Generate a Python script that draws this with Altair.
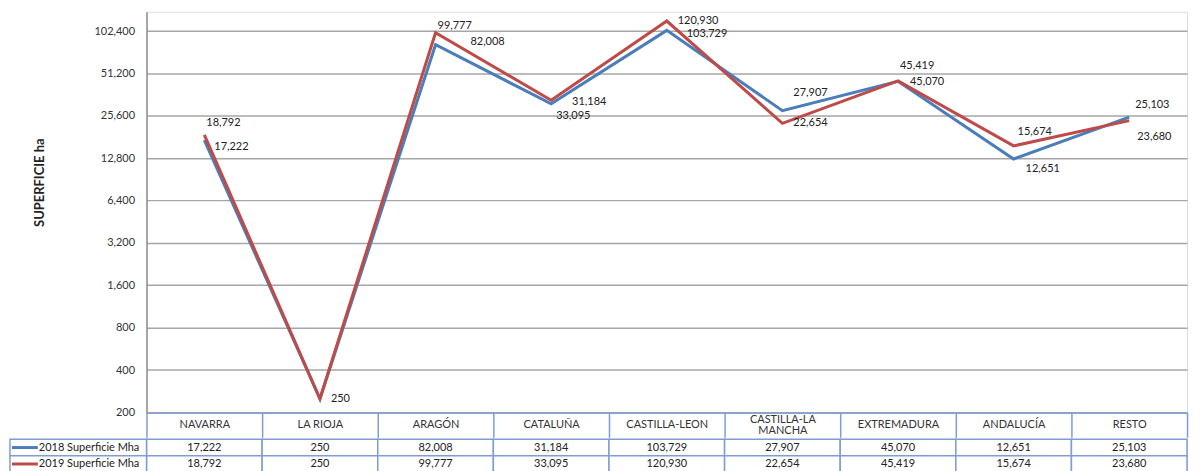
import altair as alt
import pandas as pd

REGIONS = ["NAVARRA", "LA RIOJA", "ARAGÓN", "CATALUÑA", "CASTILLA-LEON",
           "CASTILLA-LA MANCHA", "EXTREMADURA", "ANDALUCÍA", "RESTO"]
SERIES = ["2018 Superficie Mha", "2019 Superficie Mha"]
VALUES_2018 = [17222, 250, 82008, 31184, 103729, 27907, 45070, 12651, 25103]
VALUES_2019 = [18792, 250, 99777, 33095, 120930, 22654, 45419, 15674, 23680]
Y_TICKS = [200, 400, 800, 1600, 3200, 6400, 12800, 25600, 51200, 102400]

# label nudges (pixels, style only)
DX_2018 = [10, 11, 35, 21, 20, 11, 12, 12, 6]
DY_2018 = [7, 0, -3, -2, 4, -18, 1, 10, -12]
DX_2019 = [2, 11, 2, 5, 11, 11, 2, 4, 8]
DY_2019 = [-12, 0, -7, 16, 0, 0, -15, -14, 16]

BLUE = "#4a7ebb"
RED = "#be4b48"
BORDER = "#7f9dd0"
FONT = "Lato"

rows = []
for i, r in enumerate(REGIONS):
    rows.append({"region": r, "idx": i, "series": SERIES[0], "value": VALUES_2018[i],
                 "dx": DX_2018[i], "dy": DY_2018[i], "show": 0 if r == "LA RIOJA" else 1})
for i, r in enumerate(REGIONS):
    rows.append({"region": r, "idx": i, "series": SERIES[1], "value": VALUES_2019[i],
                 "dx": DX_2019[i], "dy": DY_2019[i], "show": 1})
df = pd.DataFrame(rows)

color = alt.Color("series:N", scale=alt.Scale(domain=SERIES, range=[BLUE, RED]), legend=None)
xband = alt.Scale(type="band", paddingInner=0, paddingOuter=0)

x_line = alt.X(
    "region:N", sort=REGIONS, scale=xband,
    axis=alt.Axis(
        title=None, labelAngle=0, tickBand="extent", tickSize=25, tickColor=BORDER,
        tickWidth=1.5, domainColor=BORDER, domainWidth=1.5,
        labelPadding={"condition": {"test": "datum.value == 'CASTILLA-LA MANCHA'", "value": -18},
                      "value": -13},
        labelBaseline="middle", labelOverlap=False, labelFontSize=11, labelColor="#333333",
        labelFont=FONT, minExtent=25, maxExtent=25, grid=False,
        labelExpr="datum.value == 'CASTILLA-LA MANCHA' ? ['CASTILLA-LA', 'MANCHA'] : datum.value",
        labelLineHeight=11,
    ),
)
y_line = alt.Y(
    "value:Q",
    scale=alt.Scale(type="log", base=2, domain=[200, 140700], nice=False),
    axis=alt.Axis(
        values=Y_TICKS, format=",", title="SUPERFICIE ha", titleFont=FONT,
        titleFontSize=13, titleFontWeight="bold", titleColor="#222222",
        titleX=-107, titleY=171, titleAngle=270, titleAlign="center", titleBaseline="middle",
        grid=True, gridColor="#a6a6a6", gridWidth=1.5, domainColor="#8c8c8c", domainWidth=1.5,
        ticks=False, labelPadding=12, labelFontSize=11, labelColor="#333333", labelFont=FONT,
    ),
)

base = alt.Chart(df)
lines = base.mark_line(strokeWidth=3).encode(
    x=x_line, y=y_line, color=color, order=alt.Order("idx:Q"),
    detail="series:N",
)
labels = base.transform_filter("datum.show == 1").mark_text(
    align="left", baseline="middle", fontSize=11, font=FONT, color="#222222",
    dx=alt.expr("datum.dx"), dy=alt.expr("datum.dy"),
).encode(
    x=alt.X("region:N", sort=REGIONS, scale=xband),
    y=alt.Y("value:Q"),
    text=alt.Text("value:Q", format=","),
)
line_chart = alt.layer(lines, labels).properties(width=1044, height=402)

# data table
tx = alt.X("region:N", sort=REGIONS, scale=xband, axis=None)
ty = alt.Y("series:N", sort=SERIES, scale=alt.Scale(paddingInner=0, paddingOuter=0), axis=None)
tbase = alt.Chart(df)
cells = tbase.mark_rect(fill="white", stroke=BORDER, strokeWidth=1.5).encode(x=tx, y=ty)
cell_text = tbase.mark_text(fontSize=11, font=FONT, color="#222222", baseline="middle").encode(
    x=tx, y=ty, text=alt.Text("value:Q", format=",")
)
sdf = pd.DataFrame({"series": SERIES})
sbase = alt.Chart(sdf)
leg_cells = sbase.mark_rect(fill="white", stroke=BORDER, strokeWidth=1.5).encode(
    x=alt.value(-137), x2=alt.value(0), y=ty
)
leg_keys = sbase.mark_rule(strokeWidth=3).encode(
    x=alt.value(-135), x2=alt.value(-109), y=ty, color=color
)
leg_text = sbase.mark_text(align="left", baseline="middle", fontSize=11, font=FONT,
                           color="#222222").encode(
    x=alt.value(-108), y=ty, text="series:N"
)
table = alt.layer(cells, cell_text, leg_cells, leg_keys, leg_text).properties(width=1044, height=33)

chart = alt.vconcat(line_chart, table, spacing=-4).resolve_scale(
    x="independent", y="independent"
).properties(
    padding={"left": 8, "top": 10, "right": 11, "bottom": 0}
).configure_view(stroke=None).configure(font=FONT, background="white")

chart.save("out.html", embed_options={"renderer": "svg", "actions": False})
